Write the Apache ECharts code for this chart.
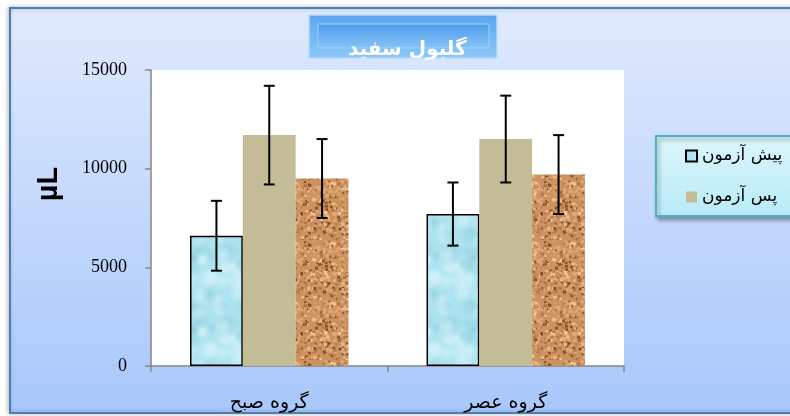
<!DOCTYPE html>
<html><head><meta charset="utf-8">
<script src="https://cdn.jsdelivr.net/npm/echarts@6/dist/echarts.min.js"></script>
<style>html,body{margin:0;padding:0;background:#fff}#c{width:790px;height:416px}</style>
</head><body><div id="c"></div>
<script>
// ---- data ----
const categories = ['گروه صبح', 'گروه عصر'];
const preTest = [6600, 7700];
const preTestErr = [1770, 1600];
const postTest = [11700, 11500];
const postTestErr = [2500, 2200];
const thirdSeries = [9500, 9700];
const thirdSeriesErr = [2000, 2000];
const yTicks = [0, 5000, 10000, 15000];
const seriesNames = ['پیش آزمون', 'پس آزمون', 'سری ۳'];
const titleText = 'گلبول سفید';
const yName = 'µL';

// ---- deterministic textures (style only) ----
function hash(i){ const s = Math.sin(i*12.9898+78.233)*43758.5453; return s - Math.floor(s); }
function waterPattern(){
  const W=56,H=72;
  const c = document.createElement('canvas'); c.width=W; c.height=H;
  const g = c.getContext('2d');
  g.fillStyle='#ace3ef'; g.fillRect(0,0,W,H);
  for (let k=0;k<30;k++){
    const x=hash(k*3+1)*W, y=hash(k*3+2)*H, r=5+hash(k*3+3)*10;
    const dark = hash(k*7+5) > 0.55;
    for (const dx of [-W,0,W]) for (const dy of [-H,0,H]){
      const grd = g.createRadialGradient(x+dx,y+dy,0,x+dx,y+dy,r);
      grd.addColorStop(0, dark ? 'rgba(120,185,205,0.35)' : 'rgba(230,250,255,0.5)');
      grd.addColorStop(0.7, dark ? 'rgba(140,200,215,0.15)' : 'rgba(215,245,252,0.2)');
      grd.addColorStop(1, 'rgba(172,227,239,0)');
      g.fillStyle=grd; g.beginPath(); g.arc(x+dx,y+dy,r,0,Math.PI*2); g.fill();
    }
  }
  return c;
}
function sandPattern(){
  const W=60,H=60;
  const c = document.createElement('canvas'); c.width=W; c.height=H;
  const g = c.getContext('2d');
  g.fillStyle='#cc9260'; g.fillRect(0,0,W,H);
  for (let k=0;k<420;k++){
    const x=hash(k*5+11)*W, y=hash(k*5+12)*H, s=1+hash(k*5+13)*2.2;
    const h=hash(k*5+14);
    let col;
    if (h<0.18) col='rgba(125,72,38,0.85)'; else if (h<0.42) col='rgba(175,115,68,0.8)'; else if (h<0.75) col='rgba(230,172,120,0.85)'; else col='rgba(242,200,152,0.85)';
    g.fillStyle=col; g.fillRect(x,y,s,s);
  }
  return c;
}
const waterFill = {image: waterPattern(), repeat: 'repeat'};
const sandFill = {image: sandPattern(), repeat: 'repeat'};

const GAP = 0.33;
function errSeries(values, errs, slot){
  return {
    type: 'custom',
    name: 'err' + slot,
    z: 10,
    encode: {x: 0, y: [1, 2]},
    data: values.map((v, i) => [i, v - errs[i], v + errs[i]]),
    renderItem(params, api){
      const band = api.size([1, 0])[0];
      const bw = band * (1 - GAP) / 3;
      const x0 = api.coord([api.value(0), 0])[0] + (slot - 1) * bw;
      const lo = api.coord([api.value(0), api.value(1)])[1];
      const hi = api.coord([api.value(0), api.value(2)])[1];
      const cap = 5.5;
      const st = {stroke: '#000', lineWidth: 2};
      return {type: 'group', children: [
        {type: 'line', shape: {x1: x0, y1: hi, x2: x0, y2: lo}, style: st},
        {type: 'line', shape: {x1: x0 - cap, y1: hi, x2: x0 + cap, y2: hi}, style: st},
        {type: 'line', shape: {x1: x0 - cap, y1: lo, x2: x0 + cap, y2: lo}, style: st}
      ]};
    }
  };
}

const chart = echarts.init(document.getElementById('c'));
const axisCol = '#868686';
chart.setOption({
  backgroundColor: '#ffffff',
  animation: false,
  graphic: [
    {type: 'rect', z: -100, silent: true,
     shape: {x: 10, y: 8, width: 800, height: 405},
     style: {fill: {type: 'linear', x: 0, y: 0, x2: 0, y2: 1,
              colorStops: [{offset: 0, color: '#e0eafd'}, {offset: 1, color: '#a8c7fb'}]},
             stroke: '#4a7ebb', lineWidth: 2, shadowBlur: 4, shadowColor: 'rgba(0,0,0,0.25)', shadowOffsetX: -1}},
    {type: 'rect', z: 1, silent: true,
     shape: {x: 309, y: 15, width: 188, height: 43},
     style: {fill: {type: 'linear', x: 0, y: 0, x2: 0, y2: 1,
              colorStops: [{offset: 0, color: '#5aa6f0'}, {offset: 1, color: '#8cc8f8'}]},
             stroke: '#b5dcfa', lineWidth: 1.5}},
    {type: 'rect', z: 2, silent: true,
     shape: {x: 318, y: 24, width: 171, height: 24},
     style: {fill: {type: 'linear', x: 0, y: 0, x2: 0, y2: 1,
              colorStops: [{offset: 0, color: '#4f9bea'}, {offset: 1, color: '#86c3f6'}]},
             stroke: '#9fd0f8', lineWidth: 1}}
  ],
  title: {
    text: titleText, left: 343, top: 35, z: 10,
    textStyle: {color: '#ffffff', fontSize: 20, fontWeight: 'bold', fontFamily: 'DejaVu Sans'}
  },
  legend: {
    data: [seriesNames[0], seriesNames[1]],
    orient: 'vertical', left: 656, top: 136,
    padding: [9, 20, 8, 29], itemGap: 19,
    itemWidth: 11, itemHeight: 11, icon: 'rect',
    textStyle: {fontSize: 17, color: '#000', fontFamily: 'DejaVu Sans', lineHeight: 22},
    backgroundColor: {type: 'linear', x: 0, y: 0, x2: 0, y2: 1,
      colorStops: [{offset: 0, color: '#dcf6fb'}, {offset: 1, color: '#b8ebf6'}]},
    borderColor: '#4fb0c9', borderWidth: 2, borderRadius: 0,
    shadowBlur: 4, shadowColor: 'rgba(0,0,0,0.35)', shadowOffsetX: 2, shadowOffsetY: 3
  },
  grid: {left: 151, right: 166, top: 70, bottom: 50, show: true, backgroundColor: '#ffffff', borderWidth: 0},
  xAxis: {
    type: 'category', data: categories,
    axisLine: {lineStyle: {color: axisCol, width: 1.5}},
    axisTick: {show: true, length: 6, lineStyle: {color: axisCol, width: 1.5}},
    axisLabel: {margin: 28, fontSize: 19, color: '#000', fontFamily: 'DejaVu Sans'}
  },
  yAxis: {
    type: 'value', min: yTicks[0], max: yTicks[yTicks.length - 1], interval: yTicks[1] - yTicks[0],
    splitLine: {show: false},
    axisLine: {show: true, lineStyle: {color: axisCol, width: 1.5}},
    axisTick: {show: true, length: 6, lineStyle: {color: axisCol, width: 1.5}},
    axisLabel: {margin: 24, fontSize: 18, color: '#000', fontFamily: 'Liberation Serif', padding: [0, 0, 12, 0],
      formatter: v => String(v)},
    name: yName, nameLocation: 'middle', nameRotate: 90, nameGap: 88,
    nameTextStyle: {fontSize: 29, fontWeight: 'bold', color: '#000', fontFamily: 'Liberation Sans', padding: [0, 0, 0, 68]}
  },
  series: [
    {type: 'bar', name: seriesNames[0], data: preTest, barGap: '0%', barCategoryGap: (GAP * 100) + '%',
     itemStyle: {color: waterFill, borderColor: '#000', borderWidth: 1.5}},
    {type: 'bar', name: seriesNames[1], data: postTest, barGap: '0%', barCategoryGap: (GAP * 100) + '%',
     itemStyle: {color: '#c4bc96'}},
    {type: 'bar', name: seriesNames[2], data: thirdSeries, barGap: '0%', barCategoryGap: (GAP * 100) + '%',
     itemStyle: {color: sandFill}},
    errSeries(preTest, preTestErr, 0),
    errSeries(postTest, postTestErr, 1),
    errSeries(thirdSeries, thirdSeriesErr, 2)
  ]
});
</script>
</body></html>
